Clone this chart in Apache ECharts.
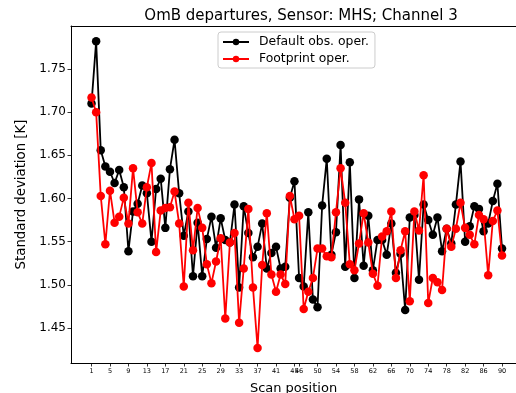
<!DOCTYPE html>
<html>
<head>
<meta charset="utf-8">
<script src="https://cdn.jsdelivr.net/npm/echarts@6/dist/echarts.min.js"></script>
<style>
  html, body { margin: 0; padding: 0; background: #fff; }
  #chart { width: 516px; height: 393px; }
</style>
</head>
<body>
<div id="chart"></div>
<script>
// Scan positions 1..90 and per-position standard deviation of OmB departures [K]
const scanPositions = [
  1,2,3,4,5,6,7,8,9,10,11,12,13,14,15,16,17,18,19,20,
  21,22,23,24,25,26,27,28,29,30,31,32,33,34,35,36,37,38,39,40,
  41,42,43,44,45,46,47,48,49,50,51,52,53,54,55,56,57,58,59,60,
  61,62,63,64,65,66,67,68,69,70,71,72,73,74,75,76,77,78,79,80,
  81,82,83,84,85,86,87,88,89,90
];

const defaultObsOper = [
  1.710,1.782,1.656,1.637,1.631,1.618,1.633,1.613,1.539,1.585,
  1.594,1.615,1.606,1.550,1.611,1.623,1.566,1.634,1.668,1.606,
  1.557,1.585,1.510,1.572,1.510,1.553,1.579,1.543,1.577,1.552,
  1.549,1.593,1.497,1.591,1.560,1.532,1.544,1.571,1.519,1.537,
  1.544,1.519,1.521,1.601,1.620,1.508,1.498,1.584,1.483,1.474,
  1.592,1.646,1.535,1.561,1.662,1.521,1.642,1.508,1.599,1.522,
  1.580,1.517,1.552,1.552,1.535,1.571,1.514,1.536,1.471,1.578,
  1.581,1.506,1.593,1.575,1.558,1.578,1.539,1.565,1.548,1.593,
  1.643,1.550,1.568,1.591,1.588,1.562,1.571,1.597,1.617,1.542
];

const footprintOper = [
  1.717,1.700,1.603,1.547,1.609,1.572,1.579,1.601,1.571,1.635,
  1.584,1.571,1.613,1.641,1.538,1.586,1.589,1.590,1.608,1.571,
  1.498,1.595,1.540,1.589,1.566,1.524,1.502,1.527,1.554,1.461,
  1.549,1.560,1.456,1.519,1.588,1.497,1.427,1.523,1.583,1.512,
  1.492,1.512,1.501,1.603,1.576,1.580,1.472,1.492,1.508,1.542,
  1.542,1.533,1.532,1.584,1.635,1.595,1.524,1.517,1.548,1.583,
  1.549,1.513,1.499,1.556,1.562,1.585,1.508,1.540,1.562,1.481,
  1.585,1.563,1.627,1.479,1.508,1.503,1.494,1.565,1.544,1.565,
  1.595,1.566,1.558,1.547,1.581,1.576,1.511,1.574,1.586,1.534
];

// Tick positions shown on the axes
const xTickValues = [1,5,9,13,17,21,25,29,33,37,41,45,46,50,54,58,62,66,70,74,78,82,86,90];
const yTickValues = [1.45,1.50,1.55,1.60,1.65,1.70,1.75];

const FONT = 'DejaVu Sans';
// Visible x range: the plot frame runs past the right edge of the canvas
const X_MIN = -3.45;
const X_MAX = 93.03;

function pairs(ys) {
  return scanPositions.map((x, i) => [x, ys[i]]);
}

const chart = echarts.init(document.getElementById('chart'), null, { renderer: 'canvas' });

chart.setOption({
  animation: false,
  backgroundColor: '#fff',
  title: {
    text: 'OmB departures, Sensor: MHS; Channel 3',
    left: 296,
    top: 4,
    textAlign: 'center',
    textStyle: { fontFamily: FONT, fontSize: 15, fontWeight: 'normal', color: '#000' }
  },
  legend: {
    left: 218,
    top: 32,
    orient: 'vertical',
    itemWidth: 26,
    itemHeight: 8,
    itemGap: 5,
    padding: [4, 6, 3, 4],
    borderColor: '#cccccc',
    borderWidth: 1,
    borderRadius: 3,
    backgroundColor: 'rgba(255,255,255,0.8)',
    textStyle: { fontFamily: FONT, fontSize: 12.4, color: '#000', padding: [0, 0, 0, 5] },
    data: ['Default obs. oper.', 'Footprint oper.']
  },
  grid: {
    left: 71,
    top: 26,
    right: 0,
    height: 337,
    show: false,
    containLabel: false,
    outerBoundsMode: 'none'
  },
  xAxis: [
    {
      type: 'value',
      position: 'bottom',
      min: X_MIN,
      max: X_MAX,
      name: 'Scan position',
      nameLocation: 'middle',
      nameGap: 19,
      nameTextStyle: { fontFamily: FONT, fontSize: 13, color: '#000' },
      axisLine: { show: true, onZero: false, lineStyle: { color: '#000', width: 1 } },
      axisTick: { show: true, customValues: xTickValues, length: 3.5, lineStyle: { color: '#000', width: 0.8 } },
      axisLabel: {
        customValues: xTickValues,
        margin: 5,
        fontFamily: FONT,
        fontSize: 6.5,
        color: '#000',
        formatter: v => String(v)
      },
      splitLine: { show: false }
    },
    {
      // top frame line only
      type: 'value',
      position: 'top',
      min: X_MIN,
      max: X_MAX,
      axisLine: { show: true, onZero: false, lineStyle: { color: '#000', width: 1 } },
      axisTick: { show: false },
      axisLabel: { show: false },
      splitLine: { show: false }
    }
  ],
  yAxis: {
    type: 'value',
    min: 1.4095,
    max: 1.7998,
    name: 'Standard deviation [K]',
    nameLocation: 'middle',
    nameGap: 43,
    nameTextStyle: { fontFamily: FONT, fontSize: 13.3, color: '#000' },
    axisLine: { show: true, onZero: false, lineStyle: { color: '#000', width: 1 } },
    axisTick: { show: true, customValues: yTickValues, length: 3.5, lineStyle: { color: '#000', width: 0.8 } },
    axisLabel: {
      customValues: yTickValues,
      margin: 5,
      fontFamily: FONT,
      fontSize: 12,
      color: '#000',
      formatter: v => v.toFixed(2)
    },
    splitLine: { show: false }
  },
  series: [
    {
      name: 'Default obs. oper.',
      type: 'line',
      xAxisIndex: 0,
      data: pairs(defaultObsOper),
      symbol: 'circle',
      symbolSize: 8.5,
      showAllSymbol: true,
      color: '#000000',
      lineStyle: { color: '#000000', width: 1.8 },
      itemStyle: { color: '#000000' },
      z: 2
    },
    {
      name: 'Footprint oper.',
      type: 'line',
      xAxisIndex: 0,
      data: pairs(footprintOper),
      symbol: 'circle',
      symbolSize: 8.5,
      showAllSymbol: true,
      color: '#ff0000',
      lineStyle: { color: '#ff0000', width: 1.8 },
      itemStyle: { color: '#ff0000' },
      z: 3
    }
  ]
});
</script>
</body>
</html>
